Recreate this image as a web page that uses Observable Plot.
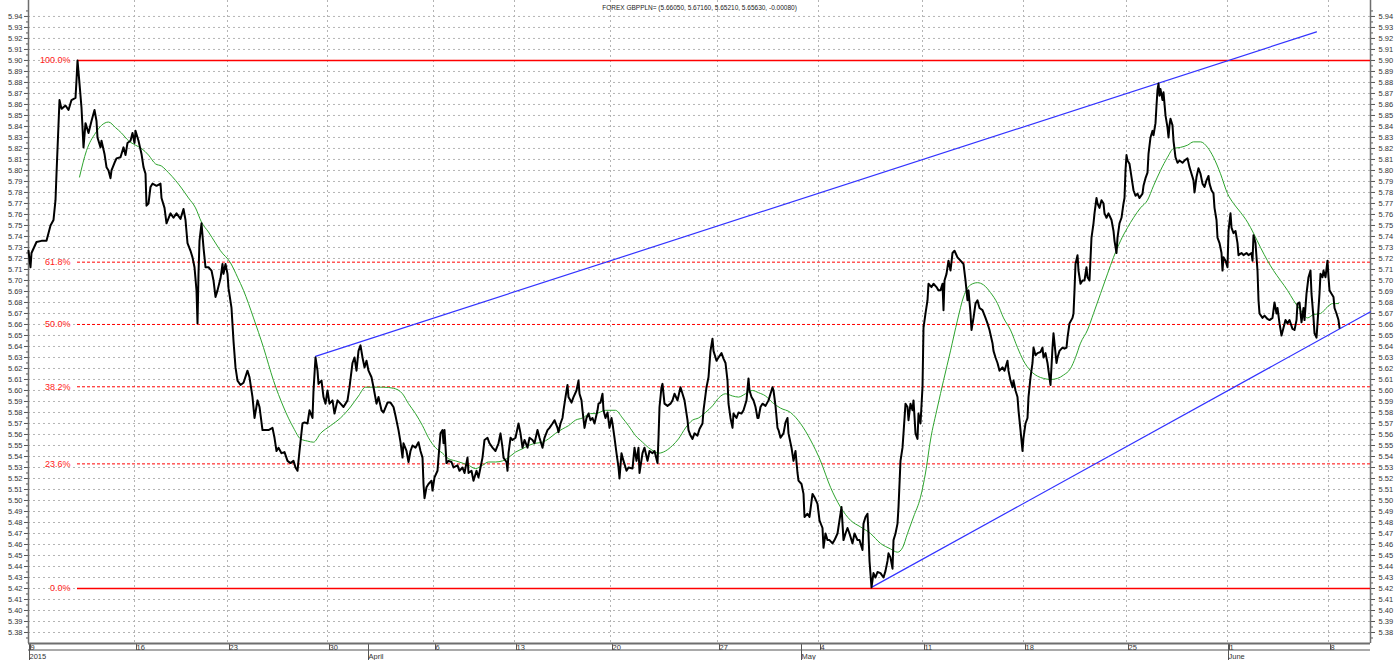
<!DOCTYPE html>
<html>
<head>
<meta charset="utf-8">
<script src="https://cdn.jsdelivr.net/npm/d3@7"></script>
<script src="https://cdn.jsdelivr.net/npm/@observablehq/plot@0.6"></script>
<style>
  html, body { margin: 0; padding: 0; background: #ffffff; }
  #chart { width: 1400px; height: 660px; overflow: hidden; }
</style>
</head>
<body>
<div id="chart"></div>
<script>
// ---- Data (bar index, price) ----
const titleText = "FOREX GBPPLN= (5.66050, 5.67160, 5.65210, 5.65630, -0.00080)";

const barCount = 1342;

const weekTicks = [0, 106, 199, 299, 405, 486, 582, 689, 790, 894, 995, 1098, 1199, 1300];
const weekLabels = ["9", "16", "23", "30", "6", "13", "20", "27", "4", "11", "18", "25", "1", "8"];
const monthTicks = [0, 339, 772, 1199];
const monthLabels = ["2015", "April", "May", "June"];

const priceTicks = d3.range(538, 595).map(d => d / 100);
const priceMinorTicks = d3.range(5375, 5950, 10).map(d => d / 1000);

const fibLabels = ["100.0%", "61.8%", "50.0%", "38.2%", "23.6%", "0.0%"];
const fibRatios = [1, 0.618, 0.5, 0.382, 0.236, 0];
const fibHigh = 5.90;
const fibLow = 5.42;

const upperTrendBars = [287, 1288];
const upperTrendValues = [5.631, 5.926];
const lowerTrendBars = [843, 1342];
const lowerTrendValues = [5.421, 5.6715];

const closeSeries = [
[0,5.727],[2,5.712],[3,5.725],[8,5.735],[13,5.736],[18,5.736],[22,5.750],[25,5.755],[27,5.773],[28,5.797],[31,5.864],[33,5.856],[37,5.859],[40,5.855],[43,5.864],[47,5.866],[48,5.882],[49,5.900],[51,5.879],[53,5.857],[54,5.839],[55,5.821],[57,5.843],[60,5.834],[63,5.845],[66,5.855],[68,5.845],[69,5.830],[72,5.821],[73,5.827],[76,5.815],[78,5.803],[80,5.800],[82,5.793],[83,5.800],[86,5.807],[88,5.811],[92,5.812],[95,5.821],[97,5.814],[99,5.825],[102,5.827],[104,5.834],[106,5.825],[107,5.836],[110,5.827],[113,5.815],[115,5.803],[117,5.797],[118,5.768],[120,5.770],[122,5.785],[124,5.788],[128,5.786],[132,5.788],[133,5.775],[136,5.766],[138,5.752],[142,5.761],[145,5.757],[148,5.761],[152,5.756],[155,5.765],[157,5.755],[159,5.734],[162,5.727],[164,5.721],[166,5.712],[168,5.691],[169,5.661],[170,5.706],[171,5.736],[173,5.752],[175,5.730],[177,5.712],[180,5.712],[183,5.709],[185,5.700],[187,5.685],[189,5.691],[192,5.702],[194,5.715],[195,5.706],[197,5.715],[199,5.706],[200,5.693],[203,5.675],[205,5.645],[207,5.621],[209,5.609],[212,5.605],[215,5.607],[219,5.618],[221,5.612],[224,5.594],[226,5.575],[229,5.591],[231,5.585],[234,5.564],[237,5.564],[240,5.564],[244,5.566],[246,5.557],[248,5.545],[250,5.548],[253,5.543],[256,5.544],[259,5.536],[262,5.534],[265,5.536],[267,5.530],[269,5.527],[271,5.545],[274,5.570],[276,5.571],[279,5.570],[281,5.582],[284,5.575],[285,5.600],[287,5.630],[289,5.618],[290,5.606],[293,5.609],[295,5.594],[297,5.588],[299,5.600],[301,5.588],[304,5.591],[306,5.579],[309,5.591],[312,5.588],[315,5.585],[319,5.591],[321,5.603],[324,5.625],[326,5.630],[328,5.618],[330,5.636],[332,5.641],[334,5.630],[336,5.621],[338,5.627],[340,5.618],[343,5.612],[345,5.603],[348,5.588],[350,5.594],[353,5.582],[355,5.580],[359,5.589],[362,5.589],[365,5.585],[367,5.577],[370,5.564],[372,5.553],[374,5.539],[375,5.552],[378,5.545],[380,5.535],[382,5.545],[384,5.550],[387,5.548],[390,5.553],[392,5.545],[394,5.539],[395,5.515],[396,5.502],[398,5.512],[400,5.515],[403,5.518],[404,5.509],[406,5.521],[409,5.527],[410,5.539],[412,5.561],[414,5.564],[415,5.552],[416,5.564],[418,5.534],[420,5.536],[423,5.535],[425,5.530],[429,5.532],[431,5.527],[434,5.530],[436,5.525],[439,5.539],[440,5.525],[443,5.527],[445,5.518],[448,5.527],[450,5.521],[452,5.530],[454,5.539],[456,5.555],[459,5.557],[461,5.552],[464,5.548],[467,5.545],[470,5.552],[472,5.561],[474,5.548],[475,5.539],[478,5.535],[479,5.527],[480,5.543],[482,5.557],[484,5.555],[487,5.557],[490,5.570],[492,5.561],[494,5.548],[496,5.555],[499,5.548],[501,5.557],[504,5.555],[506,5.552],[509,5.564],[511,5.557],[514,5.548],[516,5.557],[519,5.564],[521,5.566],[524,5.570],[526,5.573],[529,5.566],[530,5.562],[532,5.570],[534,5.575],[535,5.582],[537,5.594],[539,5.605],[540,5.594],[543,5.589],[545,5.594],[548,5.600],[550,5.609],[551,5.597],[553,5.591],[554,5.582],[556,5.566],[558,5.575],[560,5.579],[562,5.573],[564,5.575],[566,5.570],[569,5.582],[570,5.588],[572,5.589],[574,5.597],[575,5.582],[577,5.575],[579,5.580],[581,5.566],[583,5.575],[584,5.570],[586,5.557],[588,5.543],[590,5.530],[591,5.520],[593,5.543],[595,5.536],[598,5.527],[600,5.530],[604,5.529],[606,5.548],[608,5.536],[610,5.548],[611,5.525],[614,5.543],[616,5.548],[619,5.536],[621,5.545],[624,5.543],[626,5.545],[629,5.534],[630,5.557],[631,5.585],[633,5.603],[634,5.606],[636,5.588],[639,5.586],[642,5.588],[644,5.591],[646,5.597],[649,5.591],[652,5.603],[654,5.597],[656,5.591],[659,5.573],[660,5.564],[662,5.559],[664,5.556],[666,5.561],[669,5.559],[671,5.565],[674,5.570],[675,5.582],[678,5.603],[680,5.612],[682,5.636],[684,5.647],[685,5.636],[688,5.627],[690,5.630],[693,5.634],[695,5.629],[697,5.625],[699,5.609],[700,5.588],[702,5.575],[704,5.566],[705,5.579],[708,5.575],[710,5.580],[713,5.579],[715,5.582],[718,5.591],[720,5.611],[721,5.600],[723,5.594],[725,5.591],[727,5.585],[729,5.575],[730,5.575],[732,5.585],[734,5.588],[737,5.586],[740,5.591],[742,5.597],[744,5.603],[745,5.600],[747,5.586],[749,5.566],[750,5.564],[752,5.557],[755,5.561],[757,5.571],[759,5.575],[760,5.561],[763,5.548],[765,5.536],[767,5.545],[769,5.525],[770,5.518],[773,5.515],[775,5.506],[776,5.485],[779,5.488],[781,5.485],[784,5.506],[786,5.503],[789,5.497],[791,5.482],[794,5.475],[795,5.457],[797,5.470],[799,5.464],[801,5.464],[804,5.461],[806,5.464],[809,5.470],[811,5.482],[813,5.494],[815,5.464],[817,5.470],[819,5.475],[821,5.470],[824,5.461],[826,5.470],[829,5.464],[831,5.464],[834,5.455],[835,5.479],[837,5.485],[839,5.488],[840,5.470],[841,5.445],[843,5.421],[845,5.434],[847,5.430],[849,5.435],[852,5.434],[855,5.430],[857,5.436],[859,5.445],[860,5.452],[862,5.448],[864,5.438],[865,5.464],[867,5.470],[869,5.479],[870,5.494],[872,5.536],[874,5.548],[875,5.561],[877,5.588],[879,5.585],[880,5.573],[882,5.588],[884,5.582],[885,5.591],[887,5.561],[889,5.556],[890,5.579],[892,5.570],[894,5.603],[895,5.657],[897,5.670],[899,5.682],[900,5.697],[903,5.694],[905,5.697],[908,5.694],[910,5.691],[912,5.691],[914,5.697],[915,5.673],[916,5.700],[918,5.706],[920,5.718],[922,5.709],[924,5.725],[926,5.727],[929,5.721],[932,5.718],[935,5.715],[937,5.700],[939,5.682],[940,5.691],[942,5.670],[943,5.655],[945,5.666],[947,5.679],[949,5.682],[951,5.675],[954,5.673],[957,5.666],[959,5.661],[961,5.655],[964,5.643],[965,5.636],[967,5.630],[969,5.625],[971,5.618],[974,5.621],[976,5.618],[979,5.627],[980,5.618],[982,5.609],[984,5.603],[985,5.609],[987,5.600],[989,5.594],[990,5.582],[992,5.564],[994,5.545],[995,5.557],[997,5.570],[999,5.575],[1000,5.594],[1002,5.612],[1004,5.625],[1005,5.639],[1007,5.632],[1009,5.634],[1012,5.635],[1014,5.639],[1015,5.630],[1017,5.634],[1019,5.625],[1020,5.618],[1022,5.605],[1024,5.639],[1025,5.652],[1026,5.643],[1028,5.625],[1029,5.630],[1031,5.636],[1034,5.639],[1036,5.638],[1038,5.639],[1039,5.648],[1041,5.661],[1044,5.666],[1045,5.670],[1046,5.691],[1047,5.715],[1049,5.723],[1050,5.709],[1052,5.697],[1054,5.700],[1056,5.700],[1058,5.712],[1059,5.703],[1061,5.700],[1063,5.739],[1065,5.752],[1066,5.761],[1068,5.775],[1069,5.770],[1071,5.766],[1073,5.773],[1075,5.770],[1076,5.761],[1078,5.757],[1080,5.761],[1083,5.755],[1085,5.745],[1086,5.736],[1088,5.725],[1089,5.739],[1091,5.752],[1093,5.757],[1095,5.770],[1096,5.775],[1097,5.800],[1098,5.814],[1099,5.809],[1101,5.806],[1103,5.794],[1105,5.782],[1107,5.777],[1109,5.779],[1111,5.775],[1114,5.779],[1115,5.786],[1117,5.793],[1119,5.798],[1120,5.815],[1122,5.830],[1124,5.836],[1125,5.832],[1127,5.843],[1128,5.859],[1129,5.873],[1130,5.879],[1131,5.868],[1132,5.874],[1134,5.864],[1135,5.871],[1137,5.850],[1139,5.839],[1140,5.830],[1141,5.841],[1142,5.847],[1144,5.841],[1145,5.827],[1147,5.812],[1149,5.807],[1151,5.809],[1154,5.807],[1156,5.809],[1159,5.811],[1161,5.803],[1163,5.797],[1165,5.791],[1166,5.780],[1168,5.794],[1170,5.802],[1172,5.797],[1174,5.788],[1176,5.785],[1178,5.791],[1180,5.795],[1181,5.788],[1183,5.782],[1185,5.779],[1186,5.766],[1188,5.755],[1189,5.739],[1191,5.734],[1193,5.725],[1194,5.709],[1195,5.721],[1197,5.718],[1199,5.712],[1200,5.745],[1202,5.761],[1203,5.748],[1205,5.743],[1207,5.745],[1209,5.734],[1210,5.723],[1213,5.725],[1215,5.723],[1218,5.725],[1220,5.723],[1223,5.725],[1224,5.718],[1225,5.741],[1227,5.734],[1229,5.709],[1230,5.682],[1231,5.670],[1234,5.666],[1236,5.668],[1239,5.665],[1241,5.664],[1244,5.666],[1246,5.680],[1248,5.670],[1249,5.675],[1251,5.661],[1253,5.650],[1255,5.657],[1257,5.664],[1259,5.661],[1261,5.664],[1264,5.656],[1266,5.655],[1268,5.664],[1269,5.679],[1271,5.680],[1273,5.662],[1275,5.675],[1276,5.664],[1278,5.688],[1280,5.703],[1282,5.709],[1283,5.688],[1285,5.666],[1286,5.652],[1288,5.648],[1289,5.661],[1291,5.688],[1292,5.706],[1294,5.703],[1295,5.709],[1297,5.703],[1299,5.718],[1300,5.703],[1301,5.691],[1303,5.688],[1305,5.685],[1306,5.675],[1308,5.670],[1310,5.664],[1311,5.657]
];

const movingAverage = [
[51,5.794],[58,5.818],[67,5.834],[73,5.841],[80,5.844],[87,5.839],[93,5.834],[100,5.827],[107,5.823],[113,5.820],[120,5.814],[127,5.806],[133,5.804],[140,5.798],[147,5.791],[153,5.784],[160,5.775],[167,5.766],[173,5.753],[180,5.744],[187,5.734],[192,5.727],[202,5.716],[209,5.703],[215,5.691],[225,5.666],[235,5.639],[245,5.609],[255,5.585],[265,5.566],[272,5.556],[279,5.554],[285,5.553],[292,5.561],[302,5.568],[312,5.575],[322,5.585],[330,5.595],[337,5.603],[345,5.603],[355,5.603],[365,5.602],[374,5.597],[380,5.588],[387,5.579],[394,5.568],[400,5.557],[407,5.548],[414,5.543],[420,5.538],[427,5.536],[434,5.534],[440,5.532],[447,5.529],[454,5.532],[460,5.535],[467,5.535],[474,5.536],[480,5.539],[487,5.544],[494,5.547],[500,5.550],[507,5.552],[514,5.553],[520,5.556],[527,5.561],[534,5.565],[540,5.568],[547,5.573],[554,5.575],[562,5.579],[567,5.579],[577,5.582],[587,5.582],[594,5.575],[600,5.568],[607,5.559],[614,5.553],[620,5.548],[625,5.545],[630,5.543],[637,5.545],[644,5.550],[650,5.556],[657,5.566],[664,5.573],[670,5.575],[677,5.580],[684,5.586],[690,5.593],[697,5.597],[704,5.595],[710,5.594],[717,5.597],[724,5.600],[730,5.598],[737,5.595],[744,5.589],[752,5.584],[762,5.580],[772,5.570],[782,5.555],[792,5.536],[802,5.512],[812,5.494],[822,5.482],[832,5.476],[842,5.470],[852,5.461],[862,5.456],[869,5.453],[874,5.457],[879,5.470],[885,5.485],[892,5.503],[897,5.525],[902,5.555],[909,5.585],[915,5.609],[922,5.636],[929,5.664],[935,5.685],[942,5.696],[949,5.698],[955,5.696],[962,5.689],[969,5.679],[975,5.666],[982,5.655],[989,5.639],[995,5.627],[1002,5.618],[1009,5.613],[1015,5.611],[1022,5.610],[1029,5.611],[1035,5.614],[1042,5.620],[1047,5.630],[1052,5.643],[1059,5.655],[1065,5.670],[1072,5.688],[1079,5.706],[1085,5.721],[1092,5.736],[1099,5.748],[1105,5.757],[1112,5.766],[1119,5.773],[1125,5.786],[1132,5.800],[1139,5.812],[1145,5.820],[1152,5.821],[1159,5.823],[1165,5.826],[1172,5.826],[1179,5.821],[1185,5.812],[1192,5.797],[1199,5.779],[1205,5.770],[1212,5.762],[1219,5.753],[1225,5.743],[1232,5.730],[1239,5.718],[1245,5.709],[1252,5.700],[1259,5.691],[1265,5.682],[1272,5.673],[1279,5.666],[1285,5.669],[1292,5.670],[1299,5.676],[1304,5.679],[1310,5.679]
];

// ---- Derived tables ----
const price = closeSeries.map(([bar, value]) => ({bar, value}));
const ma = movingAverage.map(([bar, value]) => ({bar, value}));
const peakBar = d3.greatest(price, d => d.value).bar;
const fib = fibLabels.map((label, i) => ({
  label, ratio: fibRatios[i], value: fibLow + fibRatios[i] * (fibHigh - fibLow)
}));
const fibSolid = fib.filter(d => d.ratio === 0 || d.ratio === 1);
const fibDashed = fib.filter(d => d.ratio !== 0 && d.ratio !== 1);
const upperTrend = upperTrendBars.map((bar, i) => ({bar, value: upperTrendValues[i]}));
const lowerTrend = lowerTrendBars.map((bar, i) => ({bar, value: lowerTrendValues[i]}));
const weekLabel = new Map(weekTicks.map((t, i) => [t, weekLabels[i]]));
const monthLabel = new Map(monthTicks.map((t, i) => [t, monthLabels[i]]));

const font = "'Liberation Sans', Arial, sans-serif";
const axisStyle = {fill: "#333", stroke: "#555", fontSize: 7.5, label: null};

const chart = Plot.plot({
  width: 1400,
  height: 660,
  marginLeft: 28,
  marginRight: 30,
  marginTop: 0,
  marginBottom: 17,
  x: {type: "linear", domain: [0, barCount], label: null},
  y: {type: "linear", domain: [5.37, 5.9545], label: null},
  style: {fontFamily: font, fontSize: "7.5px", color: "#333", background: "#ffffff"},
  marks: [
    Plot.gridY(priceTicks, {stroke: "#b4b4b4", strokeOpacity: 1, strokeDasharray: "2,3"}),
    Plot.gridX(weekTicks.slice(1), {stroke: "#b4b4b4", strokeOpacity: 1, strokeDasharray: "2,3"}),
    Plot.axisY(priceMinorTicks, {anchor: "left", tickSize: 2, tickFormat: () => "", stroke: "#555", label: null}),
    Plot.axisY(priceMinorTicks, {anchor: "right", tickSize: 2, tickFormat: () => "", stroke: "#555", label: null}),
    Plot.axisY(priceTicks, {...axisStyle, anchor: "left", tickSize: 4, tickPadding: 2, tickFormat: d3.format(".2f")}),
    Plot.axisY(priceTicks, {...axisStyle, anchor: "right", tickSize: 4, tickPadding: 4, tickFormat: d3.format(".2f")}),
    Plot.axisX(weekTicks, {...axisStyle, anchor: "bottom", tickSize: 7, tickPadding: -6, textAnchor: "start", dx: 2, tickFormat: d => weekLabel.get(d)}),
    Plot.axisX(monthTicks, {...axisStyle, anchor: "bottom", tickSize: 17, tickPadding: -7, textAnchor: "start", dx: 1, tickFormat: d => monthLabel.get(d)}),
    Plot.ruleX([0, barCount], {stroke: "#6e6e6e", strokeWidth: 1.5}),
    Plot.ruleY([5.37], {stroke: "#6e6e6e", strokeWidth: 2}),
    (index, scales, values, dimensions) => {
      const {width, height, marginLeft, marginRight, marginBottom} = dimensions;
      const g = d3.create("svg:g");
      g.append("line")
        .attr("x1", marginLeft).attr("x2", width - marginRight)
        .attr("y1", height - marginBottom + 7).attr("y2", height - marginBottom + 7)
        .attr("stroke", "#555").attr("stroke-width", 1);
      return g.node();
    },
    Plot.ruleY(fibSolid, {y: "value", x1: () => peakBar, x2: () => barCount, stroke: "#ff0000", strokeWidth: 1.4}),
    Plot.ruleY(fibDashed, {y: "value", x1: () => peakBar, x2: () => barCount, stroke: "#ff0000", strokeWidth: 1, strokeDasharray: "3,2"}),
    Plot.text(fib, {x: () => peakBar, y: "value", text: "label", textAnchor: "end", dx: -7, fill: "#ff2020", fontSize: 9, fontFamily: font}),
    Plot.line(upperTrend, {x: "bar", y: "value", stroke: "#3333ff", strokeWidth: 1.2}),
    Plot.line(lowerTrend, {x: "bar", y: "value", stroke: "#3333ff", strokeWidth: 1.2}),
    Plot.line(ma, {x: "bar", y: "value", stroke: "#2ea42e", strokeWidth: 1, curve: "monotone-x"}),
    Plot.line(price, {x: "bar", y: "value", stroke: "#000000", strokeWidth: 2, strokeLinejoin: "round"}),
    Plot.text([titleText], {frameAnchor: "top", dy: 5, fontSize: 6.5, fill: "#222", fontFamily: font})
  ]
});

document.getElementById("chart").appendChild(chart);
</script>
</body>
</html>
